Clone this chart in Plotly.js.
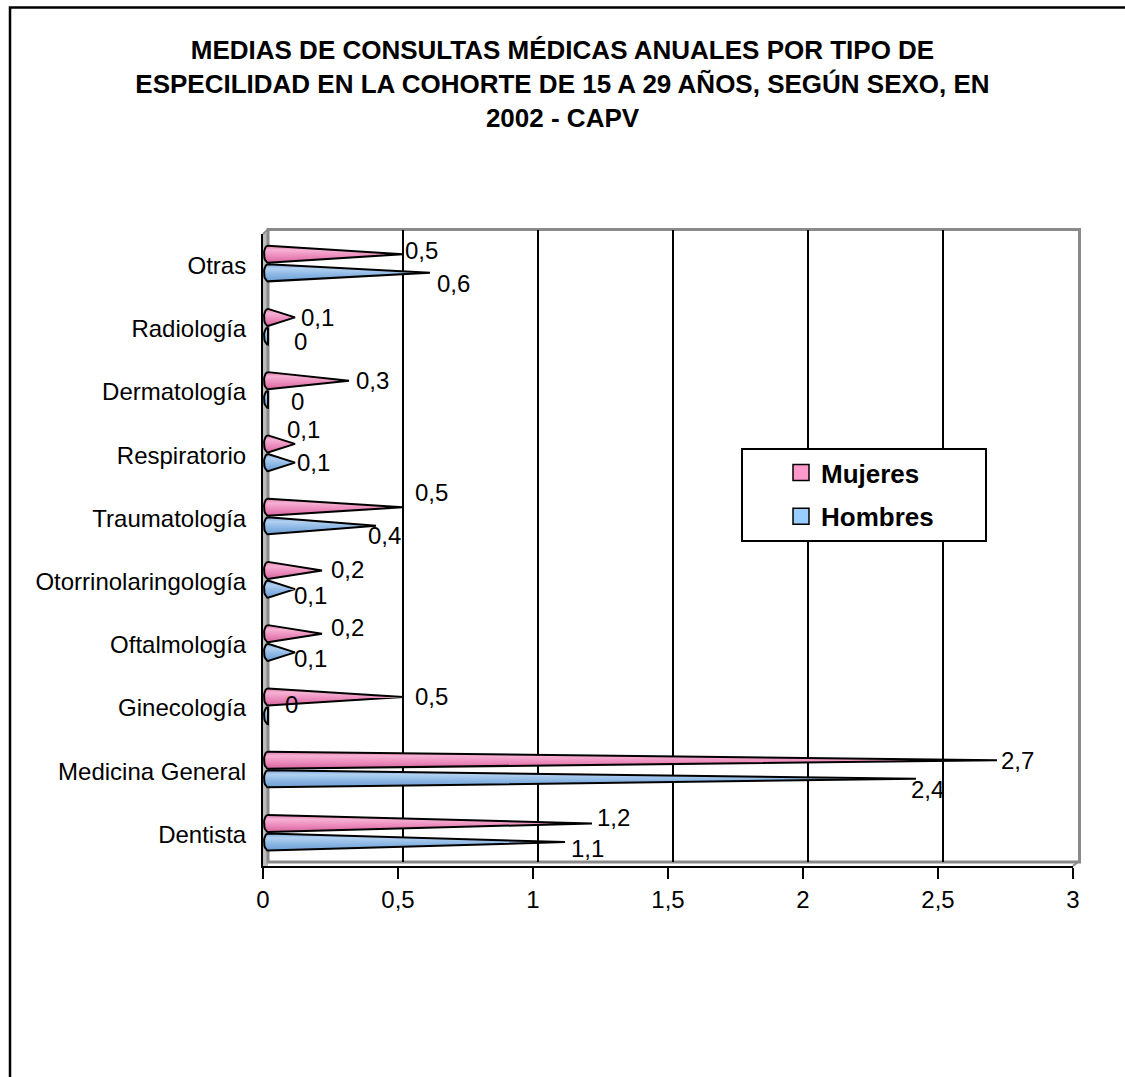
<!DOCTYPE html>
<html><head><meta charset="utf-8">
<script src="https://cdn.plot.ly/plotly-3.0.1.min.js"></script>
<style>html,body{margin:0;padding:0;background:#fff}</style>
</head><body><div id="chart" style="width:1125px;height:1077px"></div>
<script>
// ---- data ----
const categories = ['Dentista','Medicina General','Ginecología','Oftalmología','Otorrinolaringología','Traumatología','Respiratorio','Dermatología','Radiología','Otras'];
const mujeres = [1.2, 2.7, 0.5, 0.2, 0.2, 0.5, 0.1, 0.3, 0.1, 0.5];
const hombres = [1.1, 2.4, 0, 0.1, 0.1, 0.4, 0.1, 0, 0, 0.6];
const xTicks = [0, 0.5, 1, 1.5, 2, 2.5, 3];
const seriesNames = ['Mujeres', 'Hombres'];
const titleText = 'MEDIAS DE CONSULTAS MÉDICAS ANUALES POR TIPO DE<br>ESPECILIDAD EN LA COHORTE DE 15 A 29 AÑOS, SEGÚN SEXO, EN<br>2002 - CAPV';

// ---- styling / geometry ----
const FONT = 'Liberation Sans, Arial, sans-serif';
const L = 263, R = 1078, T = 229, B = 866;
const pw = R - L, ph = B - T;
const pxX = p => (p - L) / pw;
const pxY = p => (B - p) / ph;
const depthPx = 5, unitPx = 270;
const seriesOffset = [0.11, -0.185];
const halfH = 0.135;
const baseRx = 4 / unitPx;
const gradients = [
  [[0,'#d6649c'],[0.4,'#ec8cbd'],[0.75,'#f6b1d3'],[1,'#de7cae']],
  [[0,'#6c9dd2'],[0.4,'#8cb7e5'],[0.75,'#b2d0f0'],[1,'#7eaadc']]
];
const swatch = ['#ff99cc', '#99ccff'];
const labelShift = [
  [[4,6],[3,0],[11,0],[8,6],[8,1],[11,15],[-9,14],[6,0],[5,0],[1,4]],
  [[5,-6],[-6,-11],[16,11],[-2,-6],[-2,-6],[-9,-10],[1,0],[22,-2],[25,-5],[6,-11]]
];

const fmt = v => v === 0 ? '0' : v.toFixed(1).replace('.', ',');

const traces = [];
const annotations = [];
[mujeres, hombres].forEach((vals, s) => {
  vals.forEach((v, i) => {
    const c = i + seriesOffset[s];
    const xs = [], ys = [];
    const n = 14;
    for (let k = 0; k <= n; k++) {
      const t = Math.PI / 2 + Math.PI * k / n;
      xs.push(baseRx * Math.cos(t));
      ys.push(c + halfH * Math.sin(t));
    }
    xs.push(v); ys.push(c);
    xs.push(xs[0]); ys.push(ys[0]);
    traces.push({
      type: 'scatter', mode: 'lines', x: xs, y: ys, xaxis: 'x', yaxis: 'y',
      fill: 'toself',
      fillgradient: {type: 'vertical', colorscale: gradients[s]},
      line: {color: 'black', width: 2},
      showlegend: false, hoverinfo: 'skip'
    });
    annotations.push({
      x: v, y: c, xref: 'x', yref: 'y', text: fmt(v), showarrow: false,
      xanchor: 'left', yanchor: 'middle', borderpad: 0,
      xshift: labelShift[s][i][0], yshift: labelShift[s][i][1],
      font: {family: FONT, size: 24, color: 'black'}
    });
  });
});
seriesNames.forEach((name, s) => {
  traces.push({
    type: 'scatter', mode: 'markers', x: [-1], y: [-5], xaxis: 'x2', yaxis: 'y2',
    name: name, legendgroup: name,
    marker: {symbol: 'square', size: 16, color: swatch[s], line: {color: 'black', width: 1.5}},
    hoverinfo: 'skip'
  });
});

const boundaries = categories.map((_, i) => i - 0.5).concat([categories.length - 0.5]);
const catIdx = categories.map((_, i) => i);

const layout = {
  width: 1125, height: 1077,
  margin: {l: L, r: 1125 - R, t: T, b: 1077 - B},
  paper_bgcolor: 'white', plot_bgcolor: 'rgba(0,0,0,0)',
  separators: ',.',
  font: {family: FONT, color: 'black'},
  title: {
    text: titleText, x: 0.5, xanchor: 'center', xref: 'container',
    y: 1 - 59 / 1077, yanchor: 'top', yref: 'container',
    font: {family: FONT, size: 26, weight: 'bold', color: 'black'}
  },
  xaxis: {
    domain: [0, 1], range: [-depthPx / unitPx, 3], anchor: 'y',
    tickvals: xTicks.filter(v => v > 0 && v < 3), showticklabels: false, ticks: '',
    showgrid: true, gridcolor: 'black', gridwidth: 2, zeroline: false, showline: false
  },
  yaxis: {
    domain: [pxY(862), pxY(229.5)], range: [-0.5, categories.length - 0.5], anchor: 'x',
    showgrid: false, showticklabels: false, ticks: '', zeroline: false, showline: false
  },
  xaxis2: {
    domain: [0, pxX(1073)], range: [0, 3], anchor: 'y2',
    tickvals: xTicks, tickformat: '.1~f',
    ticks: 'outside', ticklen: 11, tickwidth: 2, tickcolor: 'black',
    showline: true, linecolor: 'black', linewidth: 2, showgrid: false, zeroline: false,
    tickfont: {family: FONT, size: 24, color: 'black'}
  },
  yaxis2: {
    domain: [0, pxY(234)], range: [-0.5, categories.length - 0.5], anchor: 'x2',
    tickvals: catIdx, ticktext: categories,
    ticks: 'outside', ticklen: 10, tickcolor: 'rgba(0,0,0,0)',
    showline: true, linecolor: 'black', linewidth: 2, showgrid: false, zeroline: false,
    tickfont: {family: FONT, size: 24, color: 'black'}
  },
  yaxis3: {
    overlaying: 'y2', anchor: 'x2', range: [-0.5, categories.length - 0.5],
    tickvals: boundaries, showticklabels: false,
    ticks: 'outside', ticklen: 13, tickwidth: 2, tickcolor: 'black',
    showline: false, showgrid: false, zeroline: false
  },
  showlegend: true,
  legend: {
    x: pxX(781), y: pxY(449), xanchor: 'left', yanchor: 'top',
    bgcolor: 'rgba(0,0,0,0)', borderwidth: 0, tracegroupgap: 7,
    font: {family: FONT, size: 26, weight: 'bold', color: 'black'}
  },
  annotations: annotations,
  shapes: [
    {type: 'rect', xref: 'paper', yref: 'paper', x0: pxX(10), x1: pxX(1145), y0: pxY(1095), y1: pxY(7.5),
     line: {color: 'black', width: 2.5}, fillcolor: 'rgba(0,0,0,0)', layer: 'below'},
    {type: 'rect', xref: 'paper', yref: 'paper', x0: pxX(263), x1: pxX(268), y0: pxY(866), y1: pxY(233),
     line: {width: 0}, fillcolor: '#bdbdbd', layer: 'below'},
    {type: 'rect', xref: 'paper', yref: 'paper', x0: pxX(268), x1: pxX(1079.5), y0: pxY(862), y1: pxY(229.5),
     line: {color: '#8a8a8a', width: 3}, fillcolor: 'rgba(0,0,0,0)', layer: 'below'},
    {type: 'line', xref: 'paper', yref: 'paper', x0: pxX(263), x1: pxX(268), y0: pxY(234), y1: pxY(229.5),
     line: {color: '#8a8a8a', width: 2}},
    {type: 'line', xref: 'paper', yref: 'paper', x0: pxX(1073), x1: pxX(1079), y0: pxY(866), y1: pxY(861),
     line: {color: '#8a8a8a', width: 2}},
    {type: 'rect', xref: 'paper', yref: 'paper', x0: pxX(742), x1: pxX(986), y0: pxY(541), y1: pxY(449),
     line: {color: 'black', width: 2}, fillcolor: 'white', layer: 'above'}
  ]
};

Plotly.newPlot('chart', traces, layout, {displayModeBar: false, staticPlot: true});
</script>
</body></html>
